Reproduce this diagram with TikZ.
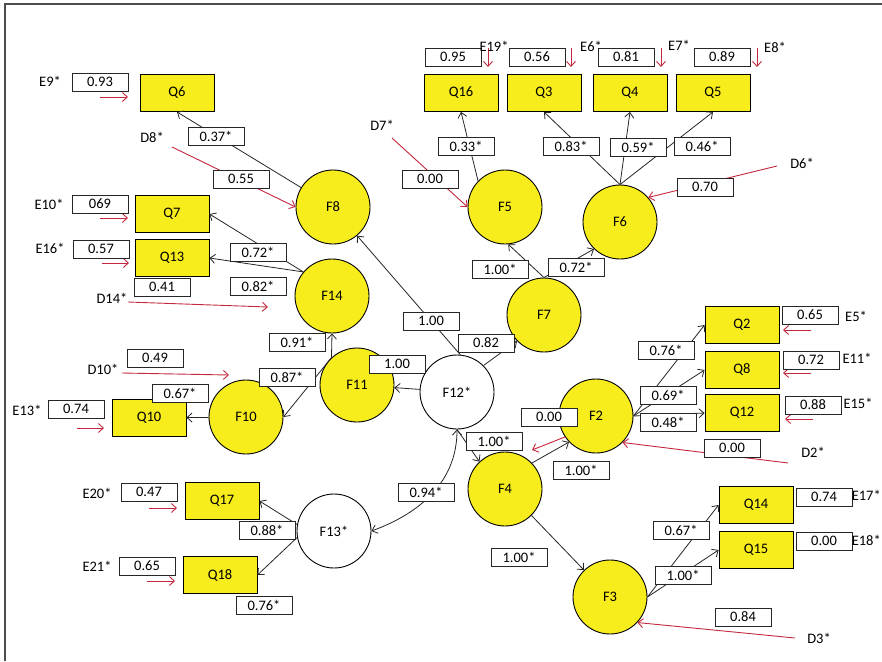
\documentclass[tikz,border=0pt]{standalone}
\usepackage{fontspec}
\setmainfont{Carlito}
\usetikzlibrary{arrows.meta}
\definecolor{fyel}{RGB}{247,236,28}
\definecolor{ered}{RGB}{196,40,62}
\begin{document}
\begin{tikzpicture}[x=1pt,y=-1pt,
  font=\fontsize{14.5}{16}\selectfont,
  lat/.style={circle, draw=black, line width=0.9pt, fill=fyel, minimum size=74pt, inner sep=0pt},
  latw/.style={lat, fill=white},
  obs/.style={rectangle, draw=black, line width=0.9pt, fill=fyel, minimum width=74pt, minimum height=37pt, inner sep=0pt},
  val/.style={rectangle, draw=black!85, line width=0.8pt, fill=white, minimum width=56pt, minimum height=18pt, inner sep=0pt},
  lbl/.style={inner sep=0pt},
  tip/.style={-{Straight Barb[length=5pt,width=9pt]}},
  pth/.style={draw=black!85, line width=0.8pt, tip},
  err/.style={draw=ered, line width=0.9pt, tip},
]
\useasboundingbox (0,0) rectangle (882,661);
\fill[white] (0,0) rectangle (882,661);
% frame
\draw[line width=1.2pt, black!70] (5,661) -- (5,4) -- (882,4);

% latent factors
\node[lat]  (F8)  at (333,207) {F8};
\node[lat]  (F5)  at (505,207) {F5};
\node[lat]  (F6)  at (620,222) {F6};
\node[lat]  (F14) at (332,296) {F14};
\node[lat]  (F7)  at (544,315) {F7};
\node[lat]  (F11) at (357,385) {F11};
\node[latw] (F12) at (457,392) {F12*};
\node[lat]  (F10) at (246,417) {F10};
\node[lat]  (F2)  at (596,416) {F2};
\node[lat]  (F4)  at (505,489) {F4};
\node[latw] (F13) at (334,531) {F13*};
\node[lat]  (F3)  at (610,597) {F3};

% observed items
\node[obs] (Q6)  at (177,93)  {Q6};
\node[obs] (Q7)  at (172,214) {Q7};
\node[obs] (Q13) at (172,258) {Q13};
\node[obs] (Q16) at (461,93)  {Q16};
\node[obs] (Q3)  at (544,93)  {Q3};
\node[obs] (Q4)  at (630,93)  {Q4};
\node[obs] (Q5)  at (713,93)  {Q5};
\node[obs] (Q2)  at (742,325) {Q2};
\node[obs] (Q8)  at (742,370) {Q8};
\node[obs] (Q12) at (742,413) {Q12};
\node[obs] (Q10) at (149,418) {Q10};
\node[obs] (Q17) at (222,501) {Q17};
\node[obs] (Q18) at (220,575) {Q18};
\node[obs] (Q14) at (756,505) {Q14};
\node[obs] (Q15) at (756,550) {Q15};

% structural and measurement paths
\draw[pth] (F8) -- (Q6.south);
\draw[pth] (F14.140) -- (Q7.east);
\draw[pth] (F14.140) -- (Q13.east);
\draw[pth] (F12.85) -- (F8.-50);
\draw[pth] (F12.45) -- (F7.224);
\draw[pth] (F12) -- (F11);
\draw[pth] (F7.north) -- (F5.-85);
\draw[pth] (F7.north) -- (F6.226);
\draw[pth] (F5.136) -- (Q16.south);
\draw[pth] (F6.north) -- (Q3.south);
\draw[pth] (F6.north) -- (Q4.south);
\draw[pth] (F6.north) -- (Q5.south);
\draw[pth] (F11.133) -- (F14.south);
\draw[pth] (F11.133) -- (F10.east);
\draw[pth] (F10) -- (Q10);
\draw[pth] (F12.south) -- (F4.133);
\draw[pth, {Straight Barb[length=5pt,width=9pt]}-{Straight Barb[length=5pt,width=9pt]}]
  (F13.east) to[out=20, in=-90] (F12.south);
\draw[pth] (F4.44) -- (F2.224);
\draw[pth] (F4.-45) -- (F3.134);
\draw[pth] (F2.east) -- (Q2.west);
\draw[pth] (F2.east) -- (Q8.west);
\draw[pth] (F2.east) -- (Q12.west);
\draw[pth] (F3.east) -- (Q14.west);
\draw[pth] (F3.east) -- (Q15.west);
\draw[pth] (F13.170) -- (Q17.east);
\draw[pth] (F13.190) -- (Q18.east);

% error and disturbance terms
\coordinate (e9s) at (100,97);   \coordinate (e9t) at (128,97);
\coordinate (e10s) at (100,218); \coordinate (e10t) at (128,218);
\coordinate (e16s) at (102,263); \coordinate (e16t) at (129,263);
\coordinate (d8s) at (172,147);
\coordinate (d14s) at (128,302); \coordinate (d14t) at (268,307);
\coordinate (d10s) at (122,373); \coordinate (d10t) at (229,375);
\coordinate (e13s) at (77,428);  \coordinate (e13t) at (104,428);
\coordinate (e20s) at (149,508); \coordinate (e20t) at (177,508);
\coordinate (e21s) at (147,581); \coordinate (e21t) at (175,581);
\coordinate (d7s) at (392,138);
\coordinate (e19s) at (488,48);  \coordinate (e19t) at (488,67);
\coordinate (e6s) at (571,48);   \coordinate (e6t) at (571,67);
\coordinate (e7s) at (661,48);   \coordinate (e7t) at (661,67);
\coordinate (e8s) at (757,48);   \coordinate (e8t) at (757,67);
\coordinate (d6s) at (777,166);
\coordinate (e5s) at (811,330);  \coordinate (e5t) at (783,330);
\coordinate (e11s) at (811,373); \coordinate (e11t) at (783,373);
\coordinate (e15s) at (813,419); \coordinate (e15t) at (785,419);
\coordinate (d2s) at (788,463);
\coordinate (d3s) at (795,638);
\coordinate (f2t) at (532,450);

\draw[err] (e9s) -- (e9t);
\draw[err] (e10s) -- (e10t);
\draw[err] (e16s) -- (e16t);
\draw[err] (d8s) -- (F8.west);
\draw[err] (d14s) -- (d14t);
\draw[err] (d10s) -- (d10t);
\draw[err] (e13s) -- (e13t);
\draw[err] (e20s) -- (e20t);
\draw[err] (e21s) -- (e21t);
\draw[err] (d7s) -- (F5.west);
\draw[err] (e19s) -- (e19t);
\draw[err] (e6s) -- (e6t);
\draw[err] (e7s) -- (e7t);
\draw[err] (e8s) -- (e8t);
\draw[err] (d6s) -- (F6.41);
\draw[err] (e5s) -- (e5t);
\draw[err] (e11s) -- (e11t);
\draw[err] (e15s) -- (e15t);
\draw[err] (d2s) -- (F2.-45);
\draw[err] (d3s) -- (F3.-43);
\draw[err] (F2.214) -- (f2t);

% estimates
\node[val] (v01) at (100,82)  {0.93};
\node[val] (v02) at (216,136) {0.37*};
\node[val] (v03) at (241,179) {0.55};
\node[val] (v04) at (100,204) {069};
\node[val] (v05) at (101,249) {0.57};
\node[val] (v06) at (258,252) {0.72*};
\node[val] (v07) at (162,287) {0.41};
\node[val] (v08) at (258,286) {0.82*};
\node[val] (v09) at (297,342) {0.91*};
\node[val] (v10) at (431,321) {1.00};
\node[val] (v11) at (397,364) {1.00};
\node[val] (v12) at (155,358) {0.49};
\node[val] (v13) at (287,377) {0.87*};
\node[val] (v14) at (180,393) {0.67*};
\node[val] (v15) at (76,409)  {0.74};
\node[val] (v16) at (486,343) {0.82};
\node[val] (v17) at (666,350) {0.76*};
\node[val] (v18) at (668,395) {0.69*};
\node[val] (v19) at (668,422) {0.48*};
\node[val] (v20) at (549,417) {0.00};
\node[val] (v21) at (494,441) {1.00*};
\node[val] (v22) at (581,470) {1.00*};
\node[val] (v23) at (732,448) {0.00};
\node[val] (v24) at (810,315) {0.65};
\node[val] (v25) at (811,360) {0.72};
\node[val] (v26) at (813,405) {0.88};
\node[val] (v27) at (426,492) {0.94*};
\node[val] (v28) at (149,492) {0.47};
\node[val] (v29) at (267,530) {0.88*};
\node[val] (v30) at (147,566) {0.65};
\node[val] (v31) at (264,605) {0.76*};
\node[val] (v32) at (519,557) {1.00*};
\node[val] (v33) at (681,530) {0.67*};
\node[val] (v34) at (683,575) {1.00*};
\node[val] (v35) at (824,497) {0.74};
\node[val] (v36) at (824,541) {0.00};
\node[val] (v37) at (743,617) {0.84};
\node[val] (v38) at (453,57)  {0.95};
\node[val] (v39) at (537,57)  {0.56};
\node[val] (v40) at (626,57)  {0.81};
\node[val] (v41) at (722,57)  {0.89};
\node[val] (v42) at (466,146) {0.33*};
\node[val] (v43) at (571,146) {0.83*};
\node[val] (v44) at (638,147) {0.59*};
\node[val] (v45) at (702,146) {0.46*};
\node[val] (v46) at (430,179) {0.00};
\node[val] (v47) at (500,269) {1.00*};
\node[val] (v48) at (576,267) {0.72*};
\node[val] (v49) at (705,187) {0.70};

% term names
\node[lbl] (lE9)  at (50,81)   {E9*};
\node[lbl] (lD8)  at (152,137) {D8*};
\node[lbl] (lE10) at (49,204)  {E10*};
\node[lbl] (lE16) at (50,248)  {E16*};
\node[lbl] (lD14) at (112,298) {D14*};
\node[lbl] (lD10) at (103,369) {D10*};
\node[lbl] (lE13) at (27,410)  {E13*};
\node[lbl] (lE20) at (97,493)  {E20*};
\node[lbl] (lE21) at (97,566)  {E21*};
\node[lbl] (lD7)  at (382,125) {D7*};
\node[lbl] (lE19) at (494,46)  {E19*};
\node[lbl] (lE6)  at (591,46)  {E6*};
\node[lbl] (lE7)  at (679,45)  {E7*};
\node[lbl] (lE8)  at (775,47)  {E8*};
\node[lbl] (lD6)  at (802,163) {D6*};
\node[lbl] (lE5)  at (856,316) {E5*};
\node[lbl] (lE11) at (857,358) {E11*};
\node[lbl] (lE15) at (858,403) {E15*};
\node[lbl] (lD2)  at (813,452) {D2*};
\node[lbl, anchor=east] (lE17) at (881,495) {E17*};
\node[lbl, anchor=east] (lE18) at (881,540) {E18*};
\node[lbl] (lD3)  at (819,638) {D3*};
\end{tikzpicture}
\end{document}
